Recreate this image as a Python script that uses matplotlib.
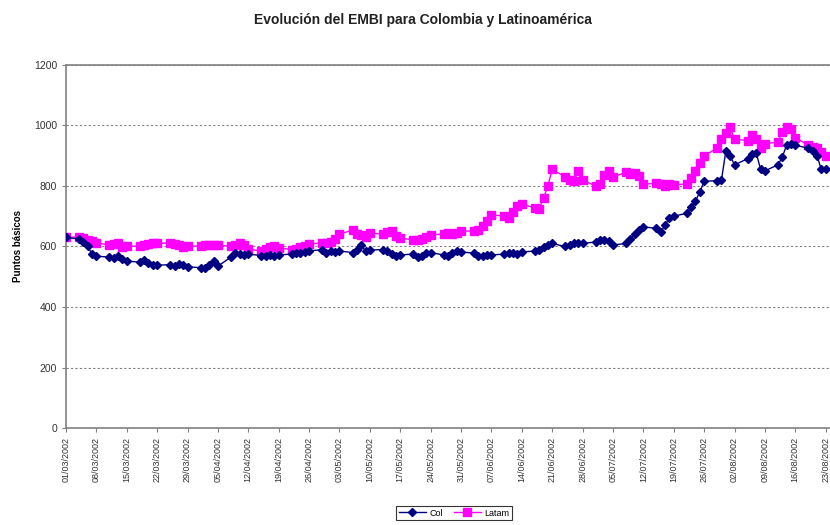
import numpy as np
import pandas as pd
import matplotlib
matplotlib.use("Agg")
import matplotlib.pyplot as plt
import matplotlib.dates as mdates

plt.rcParams['font.family'] = ['Liberation Sans', 'DejaVu Sans']

# business days, 01/03/2002 .. 23/08/2002 (126 points)
dates = pd.bdate_range("2002-03-01", "2002-08-23")

# EMBI spread, basis points (one row per week: Fri, Mon, Tue, Wed, Thu)
col = [
    630, 625, 615, 600, 575,
    568, 565, 563, 570, 560,
    552, 548, 555, 545, 540,
    538, 540, 536, 542, 538,
    533, 530, 528, 540, 552,
    535, 565, 578, 575, 572,
    575, 570, 568, 572, 570,
    572, 575, 578, 580, 582,
    585, 590, 578, 585, 582,
    585, 580, 588, 605, 585,
    588, 590, 585, 575, 568,
    572, 575, 565, 570, 578,
    580, 572, 570, 580, 585,
    582, 578, 570, 568, 572,
    572, 575, 578, 580, 576,
    582, 585, 588, 598, 605,
    610, 600, 605, 612, 610,
    610, 615, 620, 622, 618,
    605, 610, 625, 640, 655,
    665, 660, 648, 670, 695,
    700, 710, 730, 750, 780,
    815, 818, 820, 915, 900,
    870, 890, 905, 910, 855,
    850, 870, 895, 935, 940,
    935, 925, 915, 900, 855,
    855,
]
latam = [
    630, 632, 628, 620, 618,
    612, 605, 608, 610, 598,
    600, 602, 605, 608, 612,
    610, 612, 608, 605, 598,
    600, 602, 605, 606, 605,
    605, 600, 605, 610, 605,
    592, 585, 592, 598, 600,
    595, 590, 592, 598, 600,
    608, 612, 610, 615, 625,
    640, 655, 642, 638, 632,
    645, 640, 648, 650, 635,
    628, 622, 620, 624, 630,
    638, 642, 645, 640, 645,
    650, 652, 655, 668, 685,
    705, 700, 695, 715, 735,
    740, 728, 725, 760, 800,
    855, 830, 820, 815, 850,
    820, 800, 805, 835, 850,
    830, 845, 840, 842, 832,
    805, 810, 808, 800, 805,
    802, 808, 825, 850, 875,
    900, 925, 955, 975, 995,
    955, 950, 970, 955, 925,
    940, 945, 980, 995, 990,
    960, 935, 930, 925, 912,
    900,
]

yticks = [0, 200, 400, 600, 800, 1000, 1200]
xticks = pd.date_range("2002-03-01", "2002-08-23", freq="7D")

fig = plt.figure(figsize=(8.3, 5.25), dpi=100)
ax = fig.add_axes([66 / 830, 1 - 428 / 525, 1 - 66 / 830, (428 - 65) / 525])

ax.plot(dates, latam, color='#ff00ff', lw=1, marker='s', ms=5.2,
        mec='#ff00ff', label='Latam', zorder=3)
ax.plot(dates, col, color='#000080', lw=1, marker='D', ms=4.4,
        mec='#000080', label='Col', zorder=4)

ax.set_ylim(0, 1200)
ax.set_yticks(yticks)
ax.set_xlim(pd.Timestamp("2002-03-01"), pd.Timestamp("2002-08-24"))
ax.set_xticks(xticks)
ax.xaxis.set_major_formatter(mdates.DateFormatter('%d/%m/%Y'))
plt.setp(ax.get_xticklabels(), rotation=90, ha='center', va='top', fontsize=6.5)
plt.setp(ax.get_yticklabels(), fontsize=7.5)
ax.tick_params(axis='both', direction='out', length=3, width=0.8,
               colors='#808080', labelcolor='#333333')

ax.grid(axis='y', color='#808080', lw=0.8, linestyle=(0, (2, 2)))
ax.set_axisbelow(True)
for s in ['left', 'bottom', 'top']:
    ax.spines[s].set_color('#808080')
    ax.spines[s].set_linewidth(1.2)
ax.spines['right'].set_visible(False)

ax.set_ylabel('Puntos básicos', fontsize=7, fontweight='bold', labelpad=8)
fig.text(0.51, 0.962, 'Evolución del EMBI para Colombia y Latinoamérica',
         ha='center', va='center', fontsize=10, fontweight='bold', color='#222222')

h, l = ax.get_legend_handles_labels()
leg = fig.legend(h[::-1], l[::-1], loc='center', bbox_to_anchor=(454 / 830, 1 - 513 / 525),
                 ncol=2, fontsize=6.5, frameon=True, fancybox=False,
                 handlelength=3, columnspacing=1.2, borderpad=0.3,
                 handletextpad=0.4, edgecolor='black')
leg.get_frame().set_linewidth(0.8)

fig.savefig('out.png', dpi=100)
